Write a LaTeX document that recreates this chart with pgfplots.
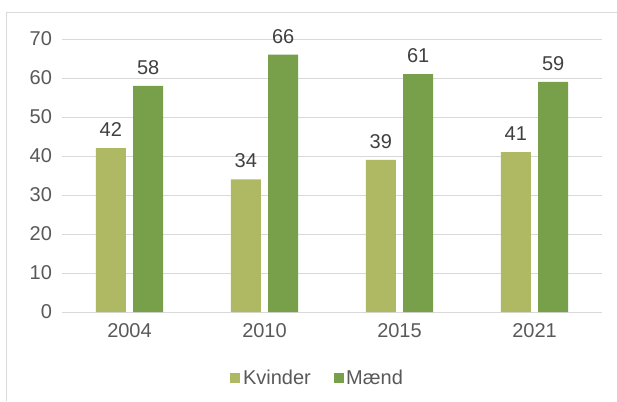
\documentclass[border=0pt]{standalone}
\usepackage{fontspec}
\setmainfont{Liberation Sans}
\usepackage{pgfplots}
\pgfplotsset{compat=1.18}
\definecolor{kvinder}{HTML}{AFB963}
\definecolor{maend}{HTML}{78A04A}
\definecolor{gridgray}{HTML}{D9D9D9}
\definecolor{ticktext}{HTML}{595959}
\definecolor{labeltext}{HTML}{404040}

% 1 px of the reference = 0.75pt
\begin{document}
\begin{tikzpicture}
  \useasboundingbox (0pt,0pt) rectangle (462.75pt,300.75pt);
  \draw[gridgray, line width=0.75pt] (4.5pt,0pt) -- (4.5pt,291pt) -- (462.75pt,291pt);
  \begin{axis}[
      at={(46.5pt,66.75pt)}, anchor=south west,
      scale only axis,
      width=405pt, height=204.75pt,
      ybar, bar width=22.5pt,
      xmin=-0.5, xmax=3.5,
      ymin=0, ymax=70,
      xtick=data,
      xticklabels={2004,2010,2015,2021},
      ytick={0,10,...,70},
      ymajorgrids,
      grid style={gridgray, line width=0.75pt},
      axis line style={draw=none},
      major tick length=0pt,
      tick label style={font=\fontsize{15}{18}\selectfont, text=ticktext},
      /pgf/number format/assume math mode=true,
      xticklabel style={yshift=-5pt},
      yticklabel style={xshift=-4pt},
      nodes near coords,
      every node near coord/.append style={font=\fontsize{15}{18}\selectfont, text=labeltext, yshift=5pt},
      legend columns=2,
      legend style={at={(0.474,-0.242)}, anchor=center, draw=none,
                    font=\fontsize{15}{18}\selectfont, text=ticktext,
                    /tikz/every even column/.append style={column sep=15pt}},
      legend image code/.code={\fill[#1] (0pt,-3.75pt) rectangle (7.5pt,3.75pt);},
    ]
    \addplot[fill=kvinder, draw=none, bar shift=-14pt] coordinates {(0,42) (1,34) (2,39) (3,41)};
    \addplot[fill=maend, draw=none, bar shift=14pt] coordinates {(0,58) (1,66) (2,61) (3,59)};
    \legend{Kvinder, Mænd}
  \end{axis}
\end{tikzpicture}
\end{document}
